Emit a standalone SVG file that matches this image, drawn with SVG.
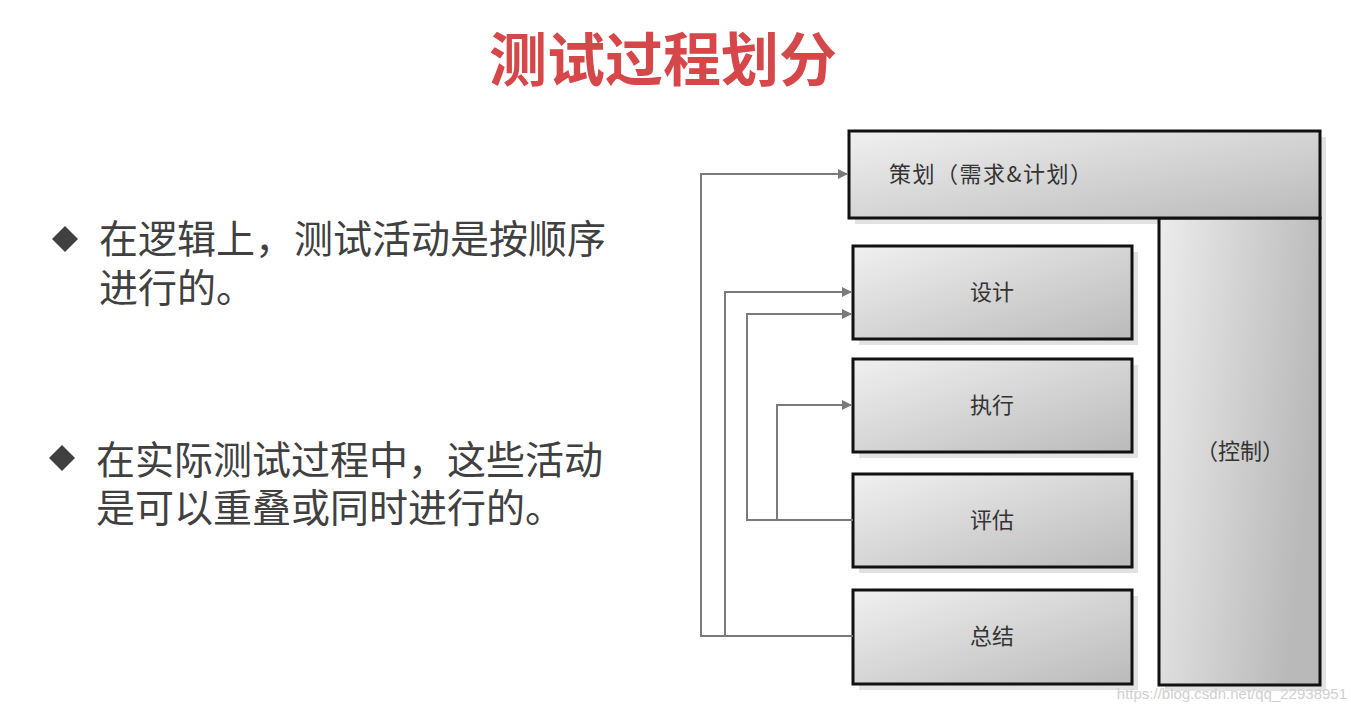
<svg xmlns="http://www.w3.org/2000/svg" width="1351" height="712" viewBox="0 0 1351 712">
<defs>
<linearGradient id="g" x1="0" y1="0" x2="1" y2="1">
<stop offset="0" stop-color="#f0f0f0"/>
<stop offset="1" stop-color="#bababa"/>
</linearGradient>
<linearGradient id="gv" x1="0" y1="0" x2="1" y2="0.3">
<stop offset="0" stop-color="#ececec"/>
<stop offset="1" stop-color="#b9b9b9"/>
</linearGradient>
<marker id="ah" markerWidth="10" markerHeight="10" refX="9" refY="5" orient="auto" markerUnits="userSpaceOnUse">
<path d="M0,0 L10,5 L0,10 Z" fill="#7a7a7a"/>
</marker>
</defs>
<style>
.box{fill:url(#g);stroke:#111;stroke-width:3}
.sh{fill:#e2e2e2}
.lbl{font-family:"Noto Sans CJK SC",sans-serif;font-size:22px;fill:#333;text-anchor:middle}
.con{fill:none;stroke:#7a7a7a;stroke-width:2}
.bt{font-family:"Noto Sans CJK SC",sans-serif;font-size:39px;fill:#404040}
</style>
<rect width="1351" height="712" fill="#fff"/>
<text x="663" y="81" font-family="Noto Sans CJK SC, sans-serif" font-size="58" font-weight="bold" fill="#d6474a" text-anchor="middle">测试过程划分</text>
<g id="bullet1">
<path d="M65,226 L78,239 L65,252 L52,239 Z" fill="#404040"/>
<text class="bt" x="99" y="253">在逻辑上，测试活动是按顺序</text>
<text class="bt" x="99" y="302">进行的。</text>
</g>
<g id="bullet2">
<path d="M62,445 L75,458 L62,471 L49,458 Z" fill="#404040"/>
<text class="bt" x="96" y="474">在实际测试过程中，这些活动</text>
<text class="bt" x="96" y="522">是可以重叠或同时进行的。</text>
</g>
<g id="shadows">
<rect class="sh" x="1165" y="224" width="161" height="467"/>
<rect class="sh" x="855" y="137" width="471" height="87"/>
<rect class="sh" x="859" y="252" width="279" height="93"/>
<rect class="sh" x="859" y="365" width="279" height="93"/>
<rect class="sh" x="859" y="480" width="279" height="93"/>
<rect class="sh" x="859" y="596" width="279" height="94"/>
</g>
<g id="control">
<rect x="1159" y="218" width="161" height="467" fill="url(#gv)" stroke="#111" stroke-width="3"/>
<text class="lbl" x="1240" y="459">（控制）</text>
</g>
<g id="planning">
<rect class="box" x="849" y="131" width="471" height="87"/>
<text x="889" y="182" font-family="Noto Sans CJK SC, sans-serif" font-size="22" fill="#333" letter-spacing="1.5">策划（需求&amp;计划）</text>
</g>
<g id="design">
<rect class="box" x="853" y="246" width="279" height="93"/>
<text class="lbl" x="992" y="300">设计</text>
</g>
<g id="execute">
<rect class="box" x="853" y="359" width="279" height="93"/>
<text class="lbl" x="992" y="413">执行</text>
</g>
<g id="evaluate">
<rect class="box" x="853" y="474" width="279" height="93"/>
<text class="lbl" x="992" y="528">评估</text>
</g>
<g id="summary">
<rect class="box" x="853" y="590" width="279" height="94"/>
<text class="lbl" x="992" y="644">总结</text>
</g>
<g id="connectors">
<path class="con" d="M853,636 H701 V174 H847" marker-end="url(#ah)"/>
<path class="con" d="M725,636 V292 H851" marker-end="url(#ah)"/>
<path class="con" d="M853,520 H747 V314 H851" marker-end="url(#ah)"/>
<path class="con" d="M777,520 V405 H851" marker-end="url(#ah)"/>
</g>
<text x="1347" y="699" font-family="Liberation Sans, sans-serif" font-size="15" fill="#d0d0d0" text-anchor="end">https://blog.csdn.net/qq_22938951</text>
</svg>
